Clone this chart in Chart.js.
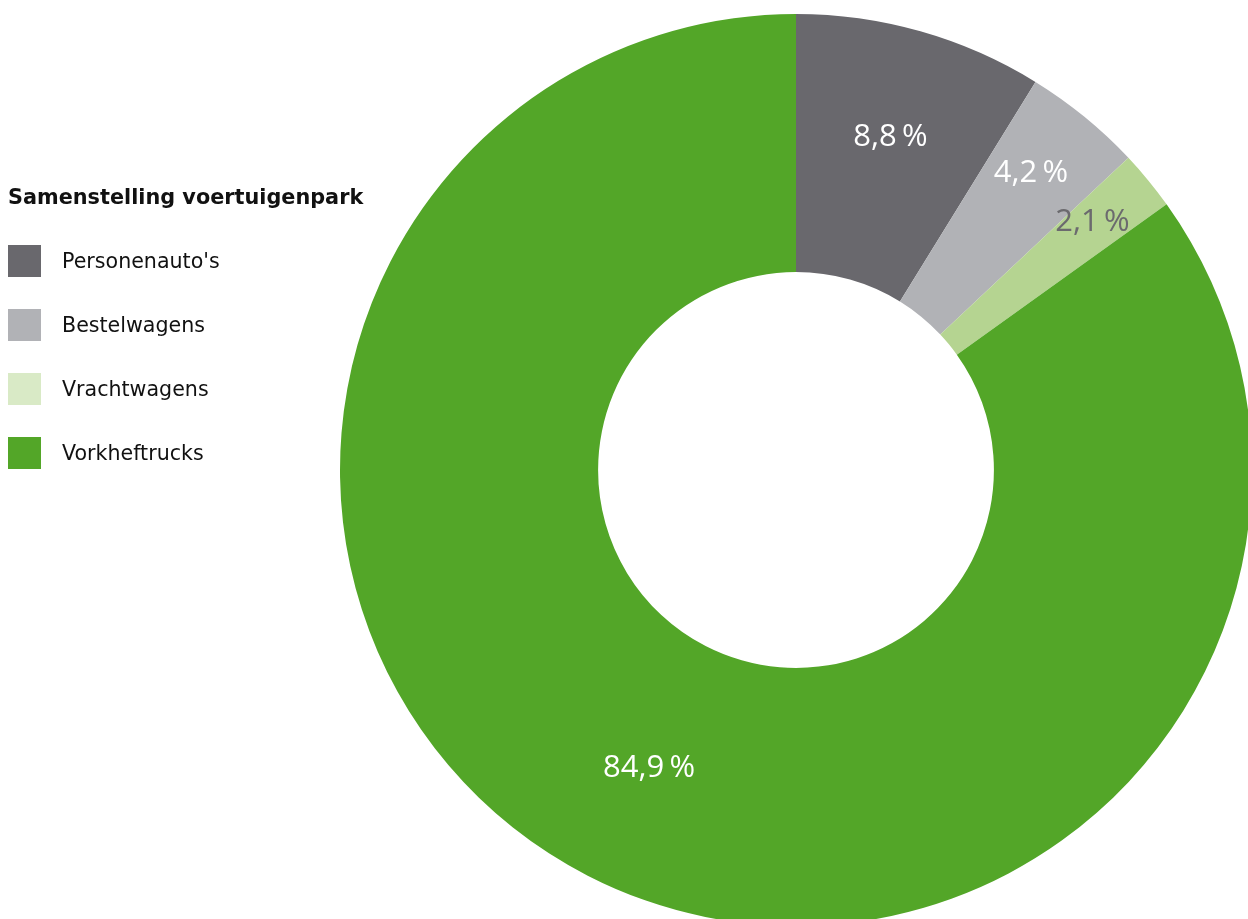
<!DOCTYPE html>
<html>
<head>
<meta charset="utf-8">
<script src="https://cdn.jsdelivr.net/npm/chart.js@4"></script>
<style>
  html, body { margin: 0; padding: 0; background: #fff; overflow: hidden; width: 1248px; height: 919px; }
  #wrap { position: relative; width: 1248px; height: 919px; overflow: hidden; }
  #chart0 { position: absolute; left: 0; top: 0; }
  #legend { position: absolute; left: 8px; top: 184px; font-family: "DejaVu Sans", Verdana, sans-serif; color: #111; }
  #legend .title { font-weight: bold; font-size: 20.8px; height: 26px; line-height: 26px; margin-bottom: 35px; white-space: nowrap; }
  #legend .item { display: flex; align-items: center; height: 32px; margin-bottom: 32px; font-size: 20.6px; white-space: nowrap; }
  #legend .sw { width: 33px; height: 32px; margin-right: 21px; flex: none; }
</style>
</head>
<body>
<div id="wrap">
  <canvas id="chart0" width="1260" height="940"></canvas>
  <div id="legend"></div>
</div>
<script>
// data
const legendTitle = 'Samenstelling voertuigenpark';
const labels = ["Personenauto's", 'Bestelwagens', 'Vrachtwagens', 'Vorkheftrucks'];
const dataValues = [8.8, 4.2, 2.1, 84.9];

const sliceColors = ['#69686d', '#b1b2b6', '#b5d491', '#53a628'];
const swatchColors = ['#69686d', '#b1b2b6', '#d9eac6', '#53a628'];
const labelColors = ['#ffffff', '#ffffff', '#6b6a6e', '#ffffff'];

// legenda in HTML
const legendEl = document.getElementById('legend');
let html = '<div class="title">' + legendTitle + '</div>';
labels.forEach((label, i) => {
    html += '<div class="item"><div class="sw" style="background:' + swatchColors[i] + '"></div>' + label + '</div>';
});
legendEl.innerHTML = html;

// percentages in de ring tekenen
const sliceLabels = {
    id: 'sliceLabels',
    afterDatasetsDraw(chart, args, opts) {
        const c = chart.ctx;
        const meta = chart.getDatasetMeta(0);
        c.save();
        c.font = opts.font;
        c.textAlign = 'center';
        c.textBaseline = 'middle';
        meta.data.forEach((arc, i) => {
            const mid = (arc.startAngle + arc.endAngle) / 2 + (opts.angleShift[i] || 0);
            const r = arc.outerRadius * opts.radius[i];
            const x = arc.x + Math.cos(mid) * r;
            const y = arc.y + Math.sin(mid) * r;
            c.fillStyle = labelColors[i];
            const txt = dataValues[i].toFixed(1).replace('.', ',') + '\u2009%';
            c.fillText(txt, x, y);
        });
        c.restore();
    }
};

const ctx = document.getElementById('chart0').getContext('2d');
new Chart(ctx, {
    type: 'doughnut',
    data: {
        labels: labels,
        datasets: [{
            data: dataValues,
            backgroundColor: sliceColors,
            borderWidth: 0
        }]
    },
    options: {
        responsive: false,
        animation: false,
        cutout: '43.4%',
        layout: {
            padding: { left: 340, right: 8, top: 14, bottom: 14 }
        },
        plugins: {
            legend: { display: false },
            title: { display: false },
            tooltip: { enabled: false },
            sliceLabels: {
                font: '31px "Open Sans", sans-serif',
                radius: [0.759, 0.83, 0.847, 0.728],
                angleShift: [0, -0.015, -0.008, -0.016]
            }
        }
    },
    plugins: [sliceLabels]
});
</script>
</body>
</html>
